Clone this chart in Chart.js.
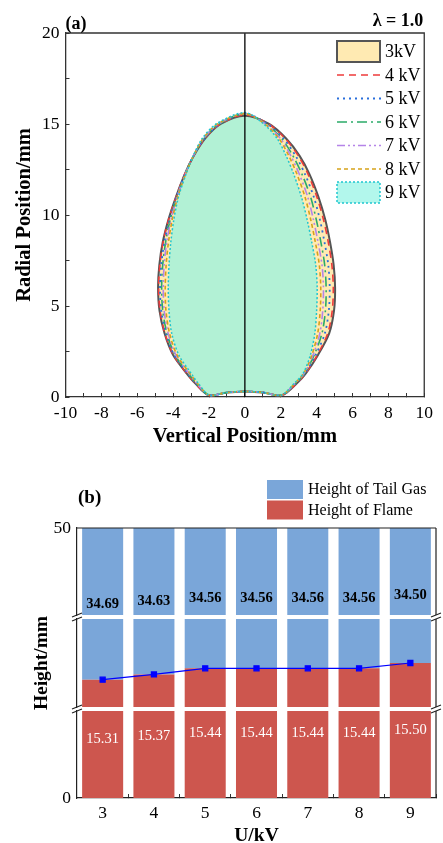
<!DOCTYPE html>
<html><head><meta charset="utf-8">
<script src="https://cdn.jsdelivr.net/npm/chart.js@4.4.1/dist/chart.umd.min.js"></script>
<style>
html,body{margin:0;padding:0;background:#fff;overflow:hidden;width:443px;height:843px;}
canvas{position:absolute;left:0;}
#c1{top:0;}
#c2{top:460px;}
</style></head><body>
<canvas id="c1" width="443" height="460"></canvas>
<canvas id="c2" width="443" height="400"></canvas>
<script>
// ---------- DATA: panel (a) flame contours ----------
const voltages = ['3kV', '4 kV', '5 kV', '6 kV', '7 kV', '8 kV', '9 kV'];
const lambdaLabel = 'λ = 1.0';
const contourLevels = [0.1, 0.75, 1.3, 2.3, 3.5, 4.75, 6.0, 7.25, 8.5, 9.75, 11.0, 12.25, 13.25, 14.2, 15.0];
const right3kV = [2.07, 2.9, 3.4, 4.07, 4.7, 4.97, 5.03, 4.95, 4.75, 4.48, 4.1, 3.6, 3.05, 2.3, 1.35];
const left3kV  = [-2.02, -2.77, -3.25, -4.0, -4.48, -4.76, -4.84, -4.77, -4.58, -4.26, -3.84, -3.35, -2.85, -2.22, -1.35];
const right4kV = [2.07, 2.89, 3.39, 4.03, 4.62, 4.87, 4.93, 4.85, 4.65, 4.38, 4.01, 3.52, 2.98, 2.25, 1.32];
const left4kV  = [-2.02, -2.76, -3.24, -3.98, -4.46, -4.73, -4.81, -4.74, -4.56, -4.25, -3.83, -3.35, -2.85, -2.23, -1.36];
const right5kV = [2.06, 2.85, 3.35, 3.94, 4.46, 4.68, 4.73, 4.65, 4.44, 4.18, 3.84, 3.35, 2.83, 2.15, 1.26];
const left5kV  = [-2.01, -2.74, -3.2, -3.94, -4.4, -4.66, -4.73, -4.66, -4.49, -4.2, -3.81, -3.34, -2.86, -2.25, -1.4];
const right6kV = [2.05, 2.83, 3.33, 3.86, 4.3, 4.49, 4.53, 4.45, 4.24, 3.98, 3.66, 3.18, 2.68, 2.05, 1.2];
const left6kV  = [-2.0, -2.71, -3.16, -3.89, -4.34, -4.58, -4.64, -4.58, -4.42, -4.16, -3.79, -3.33, -2.86, -2.28, -1.44];
const right7kV = [2.04, 2.8, 3.3, 3.8, 4.18, 4.34, 4.38, 4.3, 4.08, 3.82, 3.5, 3.03, 2.56, 1.98, 1.15];
const left7kV  = [-2.0, -2.69, -3.12, -3.84, -4.28, -4.5, -4.55, -4.5, -4.36, -4.11, -3.77, -3.32, -2.87, -2.3, -1.48];
const right8kV = [2.04, 2.78, 3.28, 3.73, 4.06, 4.2, 4.23, 4.15, 3.93, 3.67, 3.35, 2.9, 2.45, 1.9, 1.11];
const left8kV  = [-1.99, -2.65, -3.07, -3.78, -4.2, -4.4, -4.44, -4.39, -4.26, -4.05, -3.74, -3.3, -2.87, -2.33, -1.53];
const right9kV = [2.03, 2.75, 3.25, 3.65, 3.9, 4.0, 4.03, 3.95, 3.73, 3.47, 3.15, 2.72, 2.3, 1.8, 1.05];
const left9kV  = [-1.98, -2.6, -3.0, -3.68, -4.08, -4.23, -4.27, -4.23, -4.13, -3.96, -3.7, -3.28, -2.88, -2.38, -1.6];
const flameTops = [15.45, 15.51, 15.57, 15.57, 15.57, 15.57, 15.63];
const baseCenterY = 0.31;
const baseSideX = 1.0;
const baseSideY = 0.25;
const axisX = [0, 0];
const axisY = [0, 20];

// ---------- DATA: panel (b) ----------
const voltageTicks = ['3', '4', '5', '6', '7', '8', '9'];
const flameHeight = [15.31, 15.37, 15.44, 15.44, 15.44, 15.44, 15.50];
const tailGasHeight = [34.69, 34.63, 34.56, 34.56, 34.56, 34.56, 34.50];
const seriesNames = ['Height of Tail Gas', 'Height of Flame'];
const segBottom = [0, 15];
const segMiddle = [15, 16];
const segTop = [16, 50];
const heightTickBottom = 0;
const heightTickTop = 50;

// ---------- STYLE ----------
const SERIF = "'Liberation Serif','Times New Roman',serif";
Chart.defaults.font.family = SERIF;
Chart.defaults.color = '#000';

const rights = [right3kV, right4kV, right5kV, right6kV, right7kV, right8kV, right9kV];
const lefts = [left3kV, left4kV, left5kV, left6kV, left7kV, left8kV, left9kV];
const lineStyles = [
  {c: '#555555', d: [], w: 2, f: 'rgb(255,234,178)'},
  {c: '#ee3b3b', d: [7, 5], w: 1.6},
  {c: '#2a6fdb', d: [2, 4], w: 1.8},
  {c: '#2bab68', d: [10, 4, 2, 4], w: 1.6},
  {c: '#b584e8', d: [8, 3, 2, 3, 2, 3], w: 1.6},
  {c: '#d6a21a', d: [4, 3], w: 1.6},
  {c: '#1fc6d0', d: [2, 2], w: 1.5, f: 'rgba(145,243,228,0.7)'}
];

function buildContour(right, left, top) {
  const pts = [{x: 0, y: baseCenterY}, {x: baseSideX, y: baseSideY}];
  right.forEach((x, i) => pts.push({x: x, y: contourLevels[i]}));
  pts.push({x: 0, y: top});
  for (let i = left.length - 1; i >= 0; i--) pts.push({x: left[i], y: contourLevels[i]});
  pts.push({x: -baseSideX, y: baseSideY}, {x: 0, y: baseCenterY});
  return pts;
}

const datasetsA = voltages.map((v, i) => ({
  label: v,
  data: buildContour(rights[i], lefts[i], flameTops[i]),
  showLine: true,
  pointRadius: 0,
  borderColor: lineStyles[i].c,
  borderDash: lineStyles[i].d,
  borderWidth: lineStyles[i].w,
  backgroundColor: lineStyles[i].f || 'rgba(0,0,0,0)',
  fill: lineStyles[i].f ? 'shape' : false,
  tension: 0.3,
  order: voltages.length - i
}));
datasetsA.push({
  label: 'axis',
  data: axisX.map((x, i) => ({x: x, y: axisY[i]})),
  showLine: true, pointRadius: 0, borderColor: '#000', borderWidth: 1.3, fill: false, order: 0
});

const frameA = {
  id: 'frameA',
  afterDraw(chart) {
    const {ctx, chartArea: a} = chart;
    ctx.save();
    ctx.strokeStyle = '#333'; ctx.lineWidth = 1.3;
    ctx.beginPath();
    ctx.moveTo(a.left, a.top); ctx.lineTo(a.right, a.top); ctx.lineTo(a.right, a.bottom);
    ctx.stroke();
    ctx.fillStyle = '#000';
    ctx.font = 'bold 18px ' + SERIF;
    ctx.textBaseline = 'middle';
    ctx.textAlign = 'left';
    ctx.fillText('(a)', a.left, 24);
    ctx.textAlign = 'right';
    ctx.fillText(lambdaLabel, a.right - 1, 21);
    // legend
    const ds = chart.data.datasets;
    for (let i = 0; i < voltages.length; i++) {
      const d = ds[i];
      const y = 51.5 + i * 23.5;
      ctx.save();
      ctx.setLineDash(d.borderDash || []);
      ctx.lineWidth = d.borderWidth;
      ctx.strokeStyle = d.borderColor;
      if (d.fill) {
        ctx.fillStyle = d.backgroundColor;
        ctx.fillRect(337, y - 10.5, 43, 21);
        ctx.strokeRect(337, y - 10.5, 43, 21);
      } else {
        ctx.beginPath(); ctx.moveTo(337, y); ctx.lineTo(381, y); ctx.stroke();
      }
      ctx.restore();
      ctx.fillStyle = '#000';
      ctx.font = '18px ' + SERIF;
      ctx.textAlign = 'left';
      ctx.textBaseline = 'middle';
      ctx.fillText(voltages[i], 385, y + 1);
    }
    ctx.restore();
  }
};

new Chart(document.getElementById('c1'), {
  type: 'scatter',
  data: {datasets: datasetsA},
  plugins: [frameA],
  options: {
    responsive: false, animation: false, events: [],
    layout: {padding: {top: 33, right: 14, left: 0, bottom: 0}},
    plugins: {legend: {display: false}, tooltip: {enabled: false}, filler: {drawTime: 'beforeDatasetsDraw'}},
    scales: {
      x: {
        type: 'linear', min: -10, max: 10,
        ticks: {stepSize: 1, autoSkip: false, maxRotation: 0, minRotation: 0, padding: 10,
          font: {size: 17.5}, color: '#000',
          callback: v => (v % 2 === 0 ? String(v) : '')},
        grid: {display: true, drawOnChartArea: false, tickLength: -4, color: '#333'},
        border: {display: true, color: '#333', width: 1.3},
        title: {display: true, text: 'Vertical Position/mm', font: {size: 20.5, weight: 'bold'}, color: '#000', padding: {top: 0, bottom: 10.7}},
        afterFit: s => { s.height = 63; }
      },
      y: {
        type: 'linear', min: 0, max: 20,
        ticks: {stepSize: 2.5, autoSkip: false, padding: 10, font: {size: 17.5}, color: '#000',
          callback: v => (v % 5 === 0 ? String(v) : '')},
        grid: {display: true, drawOnChartArea: false, tickLength: -4, color: '#333'},
        border: {display: true, color: '#333', width: 1.3},
        title: {display: true, text: 'Radial Position/mm', font: {size: 20.5, weight: 'bold'}, color: '#000', padding: {top: 12.7, bottom: 0}},
        afterFit: s => { s.width = 65.5; }
      }
    }
  }
});

// ---------- panel (b) ----------
const BLUE = '#7aa6d9', RED = '#cd564e';
const segAxes = ['yBot', 'yMid', 'yTop'];
const datasetsB = [{
  type: 'line', label: 'flame top', data: flameHeight, yAxisID: 'yMid',
  borderColor: '#0000ff', backgroundColor: '#0000ff', borderWidth: 1.2,
  pointStyle: 'rect', pointRadius: 3.6, order: 0
}];
segAxes.forEach(id => {
  datasetsB.push({type: 'bar', label: seriesNames[1], data: flameHeight, yAxisID: id,
    backgroundColor: RED, barPercentage: 0.8, categoryPercentage: 1, order: 1});
  datasetsB.push({type: 'bar', label: seriesNames[0], data: tailGasHeight, yAxisID: id,
    backgroundColor: BLUE, barPercentage: 0.8, categoryPercentage: 1, order: 1});
});

const clipSeg = {
  id: 'clipSeg',
  beforeDatasetDraw(chart, args) {
    const ys = args.meta.yScale, a = chart.chartArea;
    chart.ctx.save();
    chart.ctx.beginPath();
    chart.ctx.rect(a.left, ys.top, a.right - a.left, ys.bottom - ys.top);
    chart.ctx.clip();
  },
  afterDatasetDraw(chart) { chart.ctx.restore(); }
};

const decoB = {
  id: 'decoB',
  afterDatasetsDraw(chart) {
    const {ctx, chartArea: a, scales} = chart;
    const xs = scales.x, ym = scales.yMid;
    ctx.save();
    ctx.textAlign = 'center'; ctx.textBaseline = 'middle';
    flameHeight.forEach((f, i) => {
      const x = xs.getPixelForValue(i);
      const p = ym.getPixelForValue(f);
      ctx.fillStyle = '#000';
      ctx.font = 'bold 14.5px ' + SERIF;
      ctx.fillText(tailGasHeight[i].toFixed(2), x, (p + a.top) / 2);
      ctx.fillStyle = '#fff';
      ctx.font = '14.5px ' + SERIF;
      ctx.fillText(f.toFixed(2), x, (p + a.bottom) / 2);
    });
    ctx.restore();
  },
  afterDraw(chart) {
    const {ctx, chartArea: a, scales} = chart;
    ctx.save();
    ctx.strokeStyle = '#222'; ctx.lineWidth = 1.2;
    ctx.beginPath();
    ctx.moveTo(a.left, a.top); ctx.lineTo(a.right, a.top);
    segAxes.forEach(id => { const s = scales[id]; ctx.moveTo(a.right, s.top); ctx.lineTo(a.right, s.bottom); });
    ctx.stroke();
    // break marks
    ctx.beginPath();
    ['yTop', 'yMid'].forEach(id => {
      const s = scales[id];
      [a.left, a.right].forEach(x => {
        ctx.moveTo(x - 5, s.bottom + 2); ctx.lineTo(x + 5, s.bottom - 2);
      });
    });
    ['yMid', 'yBot'].forEach(id => {
      const s = scales[id];
      [a.left, a.right].forEach(x => {
        ctx.moveTo(x - 5, s.top + 2); ctx.lineTo(x + 5, s.top - 2);
      });
    });
    ctx.stroke();
    // panel label
    ctx.fillStyle = '#000';
    ctx.font = 'bold 19px ' + SERIF;
    ctx.textAlign = 'left'; ctx.textBaseline = 'middle';
    ctx.fillText('(b)', 78, 38);
    // legend
    const cols = [BLUE, RED];
    seriesNames.forEach((n, i) => {
      const y = 20 + i * 20.5;
      ctx.fillStyle = cols[i];
      ctx.fillRect(267, y, 36, 19);
      ctx.fillStyle = '#000';
      ctx.font = '16px ' + SERIF;
      ctx.fillText(n, 308, y + 10);
    });
    ctx.restore();
  }
};

const hiddenAxis = (w) => ({
  type: 'linear', position: 'left', stack: 'h', stackWeight: w, min: 0, max: 1,
  ticks: {display: false}, grid: {display: false, drawTicks: false}, border: {display: false},
  afterFit: s => { s.width = 77; }
});
const segAxis = (range, w, extra) => Object.assign({
  type: 'linear', position: 'left', stack: 'h', stackWeight: w, min: range[0], max: range[1], stacked: true,
  ticks: {display: false, font: {size: 17.5}, color: '#000', padding: 6},
  grid: {display: false, drawTicks: false},
  border: {display: true, color: '#222', width: 1.2},
  afterFit: s => { s.width = 77; }
}, extra);

new Chart(document.getElementById('c2'), {
  type: 'bar',
  data: {labels: voltageTicks, datasets: datasetsB},
  plugins: [clipSeg, decoB],
  options: {
    responsive: false, animation: false, events: [],
    layout: {padding: {top: 68, right: 7, left: 0, bottom: 0}},
    plugins: {legend: {display: false}, tooltip: {enabled: false}},
    scales: {
      x: {
        type: 'category', stacked: true, offset: true,
        ticks: {font: {size: 17.5}, color: '#000', padding: 9, maxRotation: 0},
        grid: {display: true, drawOnChartArea: false, offset: true, tickLength: -4, color: '#333'},
        border: {display: true, color: '#222', width: 1.2},
        title: {display: true, text: 'U/kV', font: {size: 19.5, weight: 'bold'}, color: '#000', padding: {top: 0, bottom: 12.3}},
        afterFit: s => { s.height = 62; }
      },
      yBot: segAxis(segBottom, 87, {
        ticks: {display: true, font: {size: 17.5}, color: '#000', padding: 6},
        afterBuildTicks: s => { s.ticks = [{value: heightTickBottom}]; }
      }),
      gap1: hiddenAxis(4),
      yMid: segAxis(segMiddle, 88, {
        title: {display: true, text: 'Height/mm', font: {size: 19.5, weight: 'bold'}, color: '#000', padding: {top: 30.3, bottom: 0}}
      }),
      gap2: hiddenAxis(4),
      yTop: segAxis(segTop, 87, {
        ticks: {display: true, font: {size: 17.5}, color: '#000', padding: 6},
        afterBuildTicks: s => { s.ticks = [{value: heightTickTop}]; }
      })
    }
  }
});
</script>
</body></html>
